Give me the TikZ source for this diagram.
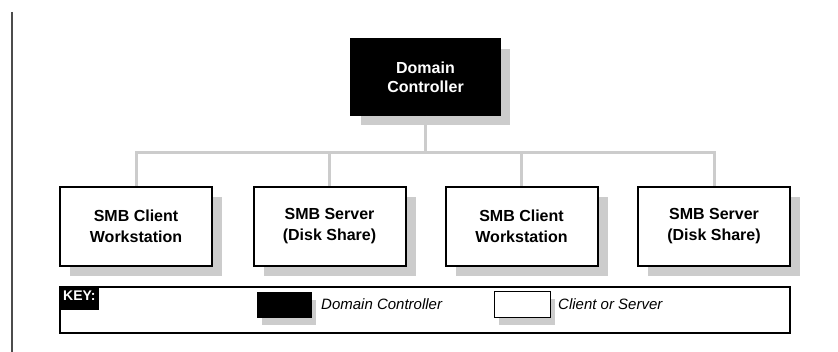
\documentclass[tikz,border=0pt]{standalone}
\usepackage{fontspec}
\setmainfont{Liberation Sans}
\usepackage{tikz}
\usetikzlibrary{shadows}

\tikzset{
  hostbox/.style={draw=black, line width=2pt, fill=white, minimum width=152pt, minimum height=79pt,
    inner sep=0pt, align=center, font=\fontsize{16}{21}\selectfont\bfseries,
    drop shadow={shadow xshift=10pt, shadow yshift=-10pt, fill=gray!40, opacity=1}},
  dcbox/.style={hostbox, fill=black, text=white, minimum width=149pt, minimum height=76pt,
    font=\fontsize{16}{19}\selectfont\bfseries},
  link/.style={draw=gray!40, line width=3pt},
  keytext/.style={anchor=west, inner sep=0pt, font=\fontsize{15}{18}\selectfont\itshape}
}

\begin{document}
\begin{tikzpicture}[x=1pt, y=-1pt]
  \useasboundingbox (0,0) rectangle (838,352);

  % margin rule
  \draw[line width=2pt, gray!60!black] (12,12) -- (12,352);

  % bus
  \coordinate (bus) at (425.5,153);

  % Domain Controller
  \node[dcbox] (dc) at (425.5,77) {Domain\\Controller};

  % hosts
  \node[hostbox] (w1) at (136,226.5) {SMB Client\\Workstation};
  \node[hostbox] (s1) at (329.5,226.5) {SMB Server\\(Disk Share)};
  \node[hostbox] (w2) at (521.5,226.5) {SMB Client\\Workstation};
  \node[hostbox] (s2) at (714,226.5) {SMB Server\\(Disk Share)};

  % connectors
  \draw[link] (w1.north) -- (w1.north |- bus) -- (s2.north |- bus) -- (s2.north);
  \foreach \n in {s1, w2}
    \draw[link] (\n.north) -- (\n.north |- bus);
  \draw[link] (dc.south) -- (dc.south |- bus);

  % key
  \node[draw=black, line width=1.5pt, minimum width=730pt, minimum height=46pt, inner sep=0pt]
    (key) at (425,310) {};
  \node[anchor=north west, fill=black, text=white, inner sep=0pt, minimum width=40pt,
    minimum height=24pt, text depth=0pt, font=\fontsize{14}{15}\selectfont\bfseries]
    (keytag) at (key.north west) {\raisebox{5pt}{KEY:}};
  \node[draw=black, fill=black, minimum width=54pt, minimum height=25pt, inner sep=0pt,
    drop shadow={shadow xshift=5pt, shadow yshift=-8pt, fill=gray!40, opacity=1}]
    (dcswatch) at (284,304.5) {};
  \node[keytext] (dclabel) at (321,304.5) {Domain Controller};
  \node[draw=black, line width=1pt, fill=white, minimum width=56pt, minimum height=26pt, inner sep=0pt,
    drop shadow={shadow xshift=5pt, shadow yshift=-8pt, fill=gray!40, opacity=1}]
    (hostswatch) at (522,304.5) {};
  \node[keytext] (hostlabel) at (558,304.5) {Client or Server};
\end{tikzpicture}
\end{document}
